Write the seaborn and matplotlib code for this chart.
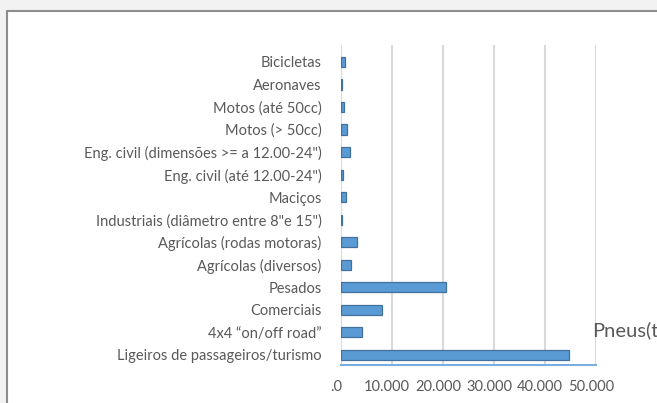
import matplotlib.pyplot as plt
import seaborn as sns
import pandas as pd
from matplotlib.patches import Rectangle
from matplotlib.transforms import ScaledTranslation

# categorias (de cima para baixo) e toneladas de pneus
categorias = ['Bicicletas', 'Aeronaves', 'Motos (até 50cc)', 'Motos (> 50cc)',
              'Eng. civil (dimensões >= a 12.00-24")', 'Eng. civil (até 12.00-24")',
              'Maciços', 'Industriais (diâmetro entre 8"e 15")',
              'Agrícolas (rodas motoras)', 'Agrícolas (diversos)', 'Pesados',
              'Comerciais', '4x4 \u201con/off road\u201d',
              'Ligeiros de passageiros/turismo']
pneus = [700, 150, 500, 1100, 1700, 300, 1000, 200,
         3100, 2000, 20600, 8000, 4100, 44700]

xticks = [0, 10000, 20000, 30000, 40000, 50000]
xtick_labels = ['.0', '10.000', '20.000', '30.000', '40.000', '50.000']

df = pd.DataFrame({'categoria': categorias, 'Pneus(t)': pneus})

sns.set_style('white')
plt.rcParams['font.family'] = ['Lato', 'DejaVu Sans']
texto = '#595959'

fig = plt.figure(figsize=(6.57, 4.03), dpi=100, facecolor='#f2f2f2')
# painel branco do grafico (estilo Excel)
fig.patches.append(Rectangle((7/657, -0.1), 1.0, (403-11)/403 + 0.1,
                             transform=fig.transFigure, facecolor='white',
                             edgecolor='#8c8c8c', lw=1.5, zorder=-5))

ax = fig.add_axes([341/657, 38/403, 255/657, 320/403])
ax.set_facecolor('none')
sns.barplot(data=df, x='Pneus(t)', y='categoria', orient='h', color='#5b9bd5',
            edgecolor='#41719c', linewidth=0.9, width=0.45, saturation=1, ax=ax)

ax.set_xlim(0, 50000)
ax.set_ylim(13.45, -0.75)
ax.set_xticks(xticks)
ax.set_xticklabels(xtick_labels)
ax.grid(axis='x', color='#d9d9d9', lw=1.5)
ax.set_axisbelow(True)
for s in ['top', 'right', 'left']:
    ax.spines[s].set_visible(False)
ax.spines['bottom'].set_color('#7aaee0')
ax.spines['bottom'].set_linewidth(1.5)
ax.tick_params(axis='x', length=0, pad=11, labelsize=10.5, labelcolor=texto)
ax.tick_params(axis='y', length=0, pad=14, labelsize=10.5, labelcolor=texto)
for lab in ax.get_xticklabels():
    lab.set_transform(lab.get_transform() + ScaledTranslation(-5/100, 0, fig.dpi_scale_trans))
ax.set_xlabel('')
ax.set_ylabel('')

# legenda cortada na borda direita, como no original
fig.text(592/657, 1 - 330/403, 'Pneus(t)', fontsize=14.5, color=texto,
         va='center', ha='left')

fig.savefig('out.png', dpi=100, facecolor=fig.get_facecolor())
